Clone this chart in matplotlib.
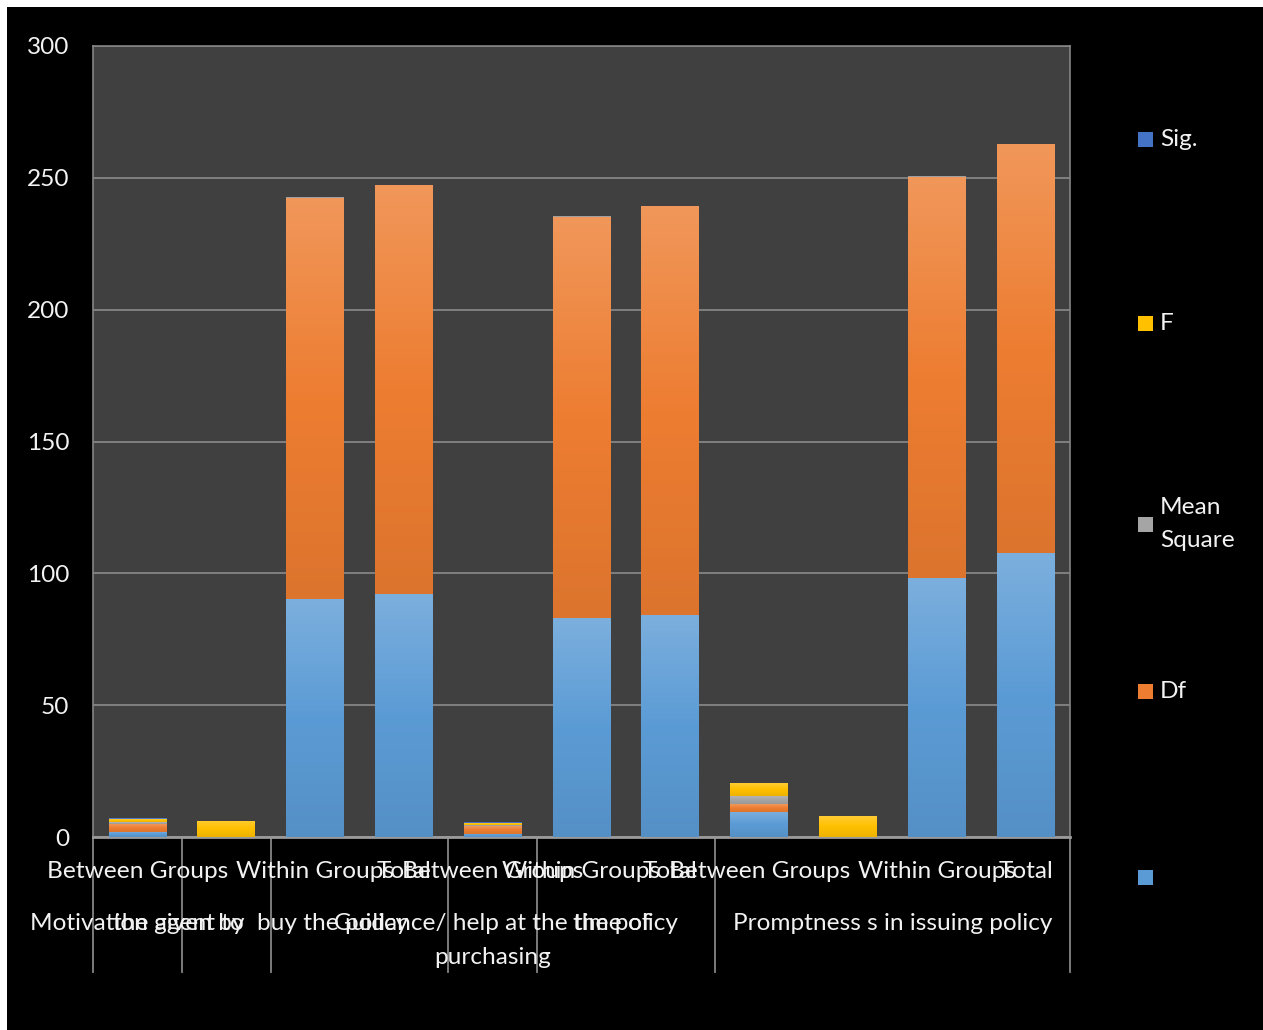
import numpy as np
import matplotlib
matplotlib.use("Agg")
import matplotlib.pyplot as plt
from matplotlib.patches import Rectangle
from matplotlib.colors import LinearSegmentedColormap, to_rgb
import matplotlib.transforms as mtransforms

# ANOVA table values, one entry per row of the table
categories = ["Between Groups", "", "Within Groups", "Total",
              "Between Groups", "Within Groups", "Total",
              "Between Groups", "", "Within Groups", "Total"]
sum_sq = [2.0, 0, 90.2, 92.2, 1.2, 83.0, 84.2, 9.5, 0, 98.2, 107.7]
dfree = [3, 0, 152, 155, 3, 152, 155, 3, 0, 152, 155]
mean_sq = [0.67, 0, 0.59, 0, 0.40, 0.55, 0, 3.17, 0, 0.65, 0]
f_val = [1.13, 6.07, 0, 0, 0.73, 0, 0, 4.90, 7.96, 0, 0]
sig = [0.34, 0, 0, 0, 0.54, 0, 0, 0.003, 0, 0, 0]

series_names = ["", "Df", "Mean Square", "F", "Sig."]
series_values = [sum_sq, dfree, mean_sq, f_val, sig]
series_colors = ["#5B9BD5", "#ED7D31", "#A5A5A5", "#FFC000", "#4472C4"]

group_labels = ["Motivation given by", "the agent to", "buy the policy",
                "Guidance/ help at the time of\npurchasing", "the policy",
                "Promptness s in issuing policy"]
group_label_x = [0.0, 0.46, 2.2, 4.0, 5.5, 8.5]
group_bounds = [-0.5, 0.5, 1.5, 3.5, 4.5, 6.5, 10.5]

FONT = "Lato"
FS = 17.6
TXT = "#f2f2f2"

W, H = 1263, 1030
fig = plt.figure(figsize=(W / 100, H / 100), dpi=100, facecolor="white")
fig.add_artist(Rectangle((7 / W, 0), 1 - 7 / W, (H - 7) / H,
                         transform=fig.transFigure, facecolor="black",
                         edgecolor="none", zorder=-10))

ax = fig.add_axes([93 / W, 1 - 837 / H, (1070 - 93) / W, (837 - 46) / H])
ax.set_facecolor("#404040")


def mix(c, other, t):
    c = np.array(to_rgb(c))
    return tuple(c * (1 - t) + np.array(other) * t)


x = np.arange(len(categories))
bottom = np.zeros(len(categories))
grad = np.linspace(0, 1, 256).reshape(-1, 1)
for vals, col in zip(series_values, series_colors):
    vals = np.array(vals, dtype=float)
    bars = ax.bar(x, vals, width=0.65, bottom=bottom, color=col,
                  edgecolor="none", zorder=3)
    cmap = LinearSegmentedColormap.from_list(
        "g", [mix(col, (0, 0, 0), 0.07), col, mix(col, (1, 1, 1), 0.2)])
    for b in bars:
        h = b.get_height()
        if h <= 0:
            continue
        x0, y0, w = b.get_x(), b.get_y(), b.get_width()
        im = ax.imshow(grad, extent=(x0, x0 + w, y0, y0 + h), origin="lower",
                       cmap=cmap, aspect="auto", zorder=3.5,
                       interpolation="bilinear")
        im.set_clip_path(b)
    bottom += vals

ax.set_xlim(-0.5, len(categories) - 0.5)
ax.set_ylim(0, 300)
ax.set_yticks(np.arange(0, 301, 50))
ax.yaxis.grid(True, color="#858585", linewidth=1.3, zorder=1)
ax.set_axisbelow(True)
ax.tick_params(axis="y", length=0, pad=17, labelsize=FS, labelcolor=TXT)
for lab in ax.get_yticklabels():
    lab.set_fontfamily(FONT)
ax.set_xticks([])
for s in ["left", "top", "right"]:
    ax.spines[s].set_color("#858585")
    ax.spines[s].set_linewidth(1.2)
ax.spines["bottom"].set_color("#9a9a9a")
ax.spines["bottom"].set_linewidth(2)

# two-level category axis below the plot
trans = mtransforms.blended_transform_factory(ax.transData, ax.transAxes)
span = 837 - 46
div_bottom = -(972 - 837) / span
for gx in group_bounds:
    ax.plot([gx, gx], [0, div_bottom], transform=trans, color="#858585",
            linewidth=1.3, clip_on=False)
row1 = -(872 - 837) / span
row2 = -(913 - 837) / span
for xi, lab in zip(x, categories):
    if lab:
        ax.text(xi, row1, lab, transform=trans, ha="center", va="center",
                color=TXT, fontsize=FS, fontfamily=FONT)
for gx, lab in zip(group_label_x, group_labels):
    ax.text(gx, row2, lab, transform=trans, ha="center", va="top",
            color=TXT, fontsize=FS, fontfamily=FONT, linespacing=1.78)

# legend column on the right
legend_y = [139, 323, 524, 691, 877]
for name, col, ly in zip(series_names[::-1], series_colors[::-1], legend_y):
    fig.add_artist(Rectangle((1138 / W, 1 - (ly + 8) / H), 15 / W, 15 / H,
                             transform=fig.transFigure, facecolor=col,
                             edgecolor="none"))
    if name:
        label = "Mean\nSquare" if name == "Mean Square" else name
        fig.text(1160 / W, 1 - ly / H, label, ha="left", va="center",
                 color=TXT, fontsize=FS, fontfamily=FONT, linespacing=1.7)

fig.savefig("out.png", dpi=100, facecolor=fig.get_facecolor())
